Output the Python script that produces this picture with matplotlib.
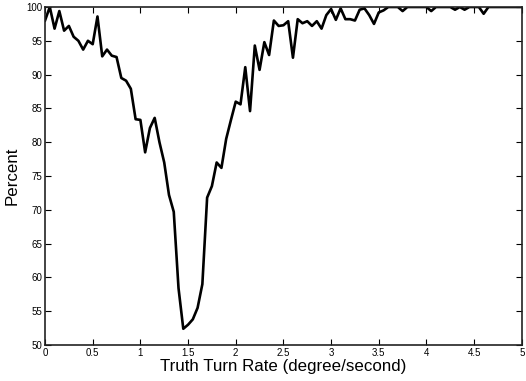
import numpy as np
import matplotlib
matplotlib.use("Agg")
import matplotlib.pyplot as plt

# turn rate grid (deg/s) and detection percentage at each rate
turn_rate = np.round(np.arange(0, 5.0001, 0.05), 2)
percent = [
    98.0, 100.0, 96.8, 99.4, 96.5, 97.2, 95.6, 95.0, 93.7, 95.0,
    94.5, 98.6, 92.7, 93.7, 92.8, 92.6, 89.5, 89.1, 87.9, 83.4,
    83.3, 78.5, 82.1, 83.6, 80.0, 77.0, 72.2, 69.7, 58.4, 52.4,
    53.0, 53.8, 55.5, 59.0, 71.8, 73.5, 77.0, 76.2, 80.5, 83.3,
    86.0, 85.6, 91.1, 84.6, 94.3, 90.7, 94.8, 92.9, 98.0, 97.2,
    97.3, 97.9, 92.5, 98.2, 97.6, 97.9, 97.2, 97.9, 96.8, 98.8,
    99.7, 98.1, 99.8, 98.2, 98.2, 98.0, 99.6, 99.8, 98.8, 97.5,
    99.2, 99.5, 100.0, 100.0, 100.0, 99.4, 100.0, 100.0, 100.0, 100.0,
    100.0, 99.4, 100.0, 100.0, 100.0, 100.0, 99.6, 100.0, 99.6, 100.0,
    100.0, 100.0, 99.0, 100.0, 100.0, 100.0, 100.0, 100.0, 100.0, 100.0,
    100.0,
]

xticks = np.arange(0, 5.01, 0.5)
xtick_labels = ["0", "0.5", "1", "1.5", "2", "2.5", "3", "3.5", "4", "4.5", "5"]
yticks = np.arange(50, 101, 5)

plt.rcParams["font.family"] = ["Liberation Sans", "DejaVu Sans"]

fig = plt.figure(figsize=(5.26, 3.81), dpi=100)
ax = fig.add_axes([0.0856, 0.0945, 0.9064, 0.8871])

ax.plot(turn_rate, percent, color="black", linewidth=1.9, clip_on=True)

ax.set_xlim(0, 5)
ax.set_ylim(50, 100)
ax.set_xticks(xticks)
ax.set_xticklabels(xtick_labels)
ax.set_yticks(yticks)

ax.tick_params(direction="in", top=True, right=True, length=4, width=0.8,
               labelsize=7, pad=2, colors="black")
for s in ax.spines.values():
    s.set_linewidth(1.2)
    s.set_color("#222222")

ax.set_xlabel("Truth Turn Rate (degree/second)", fontsize=12.2, labelpad=1)
ax.set_ylabel("Percent", fontsize=12.2, labelpad=5)

fig.savefig("out.png", dpi=100)
